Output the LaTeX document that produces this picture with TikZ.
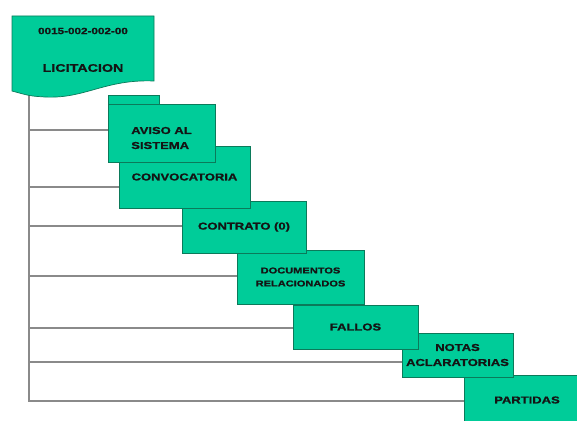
\documentclass[tikz,border=0pt]{standalone}
\usepackage{fontspec}
\setmainfont{Liberation Sans}
\newfontfamily\boxfont[FakeStretch=1.3, BoldFeatures={FakeBold=1.2}]{Liberation Sans}
\usetikzlibrary{calc, backgrounds}
\definecolor{cteal}{HTML}{00CC99}
\definecolor{cedge}{HTML}{0B7A5A}
\definecolor{cline}{HTML}{8A8A8A}
\definecolor{ctext}{HTML}{141414}
\tikzset{
  every picture/.style={line width=0.7pt},
  box/.style={draw=cedge, fill=cteal, align=center, inner sep=0pt, text=ctext, font=\boxfont\bfseries\fontsize{10}{15}\selectfont},
  link/.style={draw=cline, line width=1.2pt},
}

\begin{document}
\begin{tikzpicture}[
    x=1pt, y=-1pt,
    doc/.style={draw=cedge, fill=cteal},
    plain/.style={text=ctext, inner sep=0pt, font=\boxfont\bfseries\fontsize{10}{12}\selectfont},
    small/.style={font=\boxfont\bfseries\fontsize{8.5}{13}\selectfont},
  ]
  \useasboundingbox (0,0) rectangle (577,420);
  \clip (0,0) rectangle (577,420);

  % licitacion
  \path[doc] (12,16) -- (154,16) -- (154,81) .. controls (105,79) and (85,99) .. (45,97) .. controls (30,96) .. (12,91) -- cycle;
  \node[plain, font=\boxfont\bfseries\fontsize{9}{11}\selectfont] (num) at (83,31) {0015-002-002-00};
  \node[plain, font=\boxfont\bfseries\fontsize{11}{13}\selectfont] (licit) at (83,68) {LICITACION};
  \coordinate (spine) at (29,93);

  % steps, last one first so the earlier ones lie on top
  \node[box, minimum width=126, minimum height=50] (part) at (527,400) {PARTIDAS};
  \node[box, minimum width=111, minimum height=44] (notas) at (457.5,355) {NOTAS\\ACLARATORIAS};
  \node[box, minimum width=125, minimum height=44] (fallos) at (355.5,327) {FALLOS};
  \node[box, small, minimum width=127, minimum height=54] (docs) at (300.5,277) {DOCUMENTOS\\RELACIONADOS};
  \node[box, minimum width=124, minimum height=52] (cont) at (244,227) {CONTRATO (0)};
  \node[box, minimum width=131, minimum height=62] (convo) at (184.5,177) {CONVOCATORIA};
  \node[box, minimum width=51, minimum height=9, anchor=south west] (tab) at (108,105) {};
  \node[box, align=left, minimum width=107, minimum height=58] (aviso) at (161.5,133) {\rule{0pt}{17pt}AVISO AL\\SISTEMA};

  \begin{scope}[on background layer]
    \foreach \n/\dy in {aviso/-3, convo/10, cont/-1, docs/-1, fallos/1, notas/7, part/1}
      \draw[link] (spine) |- ($(\n.west)+(0,\dy)$);
  \end{scope}
\end{tikzpicture}
\end{document}
